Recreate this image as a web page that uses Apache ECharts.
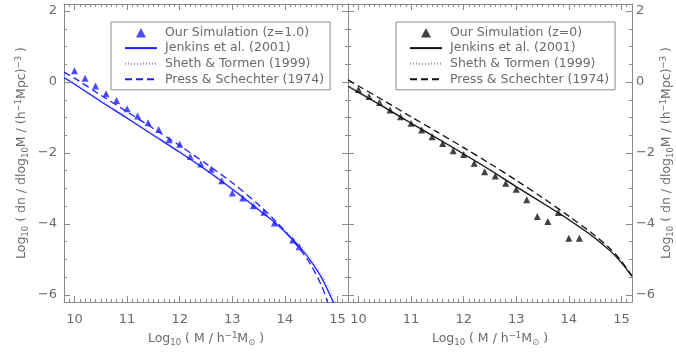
<!DOCTYPE html>
<html>
<head>
<meta charset="utf-8">
<script src="https://cdn.jsdelivr.net/npm/echarts@6/dist/echarts.min.js"></script>
<style>
  html, body { margin: 0; padding: 0; background: #fff; }
  #massFunc { width: 676px; height: 354px; }
</style>
</head>
<body>
<div id="massFunc"></div>
<script>
// tick labels
const xMajor = [10, 11, 12, 13, 14, 15];
const yMajor = [-6, -4, -2, 0, 2];

// z = 1.0 panel
const simZ1X = [10.0, 10.2, 10.4, 10.6, 10.8, 11.0, 11.2, 11.4, 11.6, 11.8, 12.0, 12.2, 12.4, 12.6, 12.8, 13.0, 13.2, 13.4, 13.6, 13.8, 14.15, 14.27];
const simZ1Y = [0.32, 0.11, -0.11, -0.33, -0.52, -0.75, -0.96, -1.15, -1.34, -1.63, -1.75, -2.10, -2.31, -2.46, -2.78, -3.13, -3.27, -3.49, -3.67, -3.97, -4.45, -4.64];

const curveZ1X = [9.8, 10.0, 10.5, 11.0, 11.5, 12.0, 12.5, 13.0, 13.5, 13.8, 14.0, 14.3, 14.5, 14.7, 14.9, 15.0];
const jenkinsZ1 = [0.12, -0.06, -0.55, -1.02, -1.50, -1.98, -2.48, -3.02, -3.60, -3.95, -4.22, -4.68, -5.06, -5.52, -6.14, -6.5];
const shethZ1 = [0.16, -0.02, -0.51, -0.98, -1.46, -1.94, -2.44, -2.98, -3.56, -3.91, -4.17, -4.60, -4.98, -5.42, -6.0, -6.35];
const psZ1X = [9.8, 10.0, 10.5, 11.0, 11.5, 12.0, 12.5, 13.0, 13.5, 13.8, 14.0, 14.3, 14.5, 14.7, 14.8, 14.9];
const psZ1 = [0.28, 0.11, -0.37, -0.84, -1.31, -1.79, -2.30, -2.84, -3.46, -3.88, -4.20, -4.74, -5.17, -5.75, -6.15, -6.6];

// z = 0 panel
const simZ0X = [10.0, 10.2, 10.4, 10.6, 10.8, 11.0, 11.2, 11.4, 11.6, 11.8, 12.0, 12.2, 12.4, 12.6, 12.8, 13.0, 13.2, 13.4, 13.6, 13.8, 14.0, 14.2];
const simZ0Y = [-0.21, -0.41, -0.58, -0.79, -0.98, -1.16, -1.35, -1.54, -1.73, -1.94, -2.04, -2.29, -2.53, -2.65, -2.85, -3.02, -3.32, -3.79, -3.93, -3.68, -4.40, -4.40];

const curveZ0X = [9.8, 10.0, 10.5, 11.0, 11.5, 12.0, 12.5, 13.0, 13.5, 14.0, 14.5, 14.8, 15.0, 15.2];
const jenkinsZ0 = [-0.12, -0.29, -0.72, -1.16, -1.59, -2.03, -2.48, -2.95, -3.41, -3.88, -4.40, -4.78, -5.09, -5.48];
const shethZ0 = [-0.08, -0.25, -0.69, -1.13, -1.56, -2.00, -2.45, -2.92, -3.39, -3.86, -4.38, -4.77, -5.08, -5.47];
const psZ0 = [0.06, -0.11, -0.54, -0.98, -1.41, -1.85, -2.30, -2.77, -3.26, -3.78, -4.33, -4.72, -5.05, -5.46];

const FONT = "DejaVu Sans";
const TXT = "#6a6a6a";
const AXIS = "#8a8a8a";
// triangle centred in a 32x10 legend slot
const LEGEND_TRI = "path://M0,0M32,10M11,10L16,0.5L21,10Z";

function pairs(xs, ys) {
  return xs.map((x, i) => [x, ys[i]]);
}

// minor tick positions
const xMinor = [];
for (let i = 98; i <= 152; i++) xMinor.push(+(i / 10).toFixed(1));
const yMinor = [];
for (let i = -12; i <= 4; i++) yMinor.push(i / 2);

const rich = {
  n: { fontSize: 12.5, lineHeight: 16, color: TXT, fontFamily: FONT },
  sub: { fontSize: 8.5, lineHeight: 9, padding: [7, 0, 0, 0], color: TXT, fontFamily: FONT },
  sup: { fontSize: 8.5, lineHeight: 9, padding: [0, 0, 7, 0], color: TXT, fontFamily: FONT },
};
const xName = "{n|Log}{sub|10}{n| ( M / h}{sup|−1}{n|M}{sub|⊙}{n| )}";
const yName = "{n|Log}{sub|10}{n| ( dn / dlog}{sub|10}{n|M / (h}{sup|−1}{n|Mpc)}{sup|−3}{n| )}";

function minus(v) {
  return v < 0 ? "−" + Math.abs(v) : String(v);
}

function xAxes(grid, pos, withLabel) {
  const base = {
    gridIndex: grid,
    type: "value",
    position: pos,
    min: 9.8,
    max: 15.2,
    splitLine: { show: false },
  };
  return [
    Object.assign({}, base, {
      axisLine: { show: true, onZero: false, lineStyle: { color: AXIS, width: 1 } },
      axisTick: { show: true, inside: true, length: 6, customValues: xMajor, lineStyle: { color: AXIS } },
      axisLabel: withLabel
        ? { show: true, customValues: xMajor, margin: 11, fontSize: 13, color: TXT, fontFamily: FONT }
        : { show: false },
      name: withLabel ? xName : "",
      nameLocation: "middle",
      nameGap: 28,
      nameTextStyle: { rich: rich },
    }),
    Object.assign({}, base, {
      axisLine: { show: false, onZero: false },
      axisTick: { show: true, inside: true, length: 3, customValues: xMinor, lineStyle: { color: AXIS } },
      axisLabel: { show: false },
    }),
  ];
}

function yAxes(grid, pos, withLabel) {
  const base = {
    gridIndex: grid,
    type: "value",
    position: pos,
    min: -6.2,
    max: 2.2,
    splitLine: { show: false },
  };
  return [
    Object.assign({}, base, {
      axisLine: { show: true, onZero: false, lineStyle: { color: AXIS, width: 1 } },
      axisTick: { show: true, inside: true, length: 6, customValues: yMajor, lineStyle: { color: AXIS } },
      axisLabel: withLabel
        ? { show: true, customValues: yMajor, margin: pos === "left" ? 7 : 4, fontSize: 13, color: TXT, fontFamily: FONT, formatter: minus }
        : { show: false },
      name: withLabel ? yName : "",
      nameLocation: "middle",
      nameRotate: 90,
      nameGap: pos === "left" ? 34 : 27,
      nameTextStyle: { rich: rich },
    }),
    Object.assign({}, base, {
      axisLine: { show: false, onZero: false },
      axisTick: { show: true, inside: true, length: 3, customValues: yMinor, lineStyle: { color: AXIS } },
      axisLabel: { show: false },
    }),
  ];
}

function legendBox(left, names) {
  return {
    orient: "vertical",
    left: left,
    top: 22,
    padding: [4, 6, 4, 13],
    borderColor: "#8a8a8a",
    borderWidth: 1,
    itemWidth: 32,
    itemHeight: 10,
    itemGap: 2.6,
    selectedMode: false,
    // line entries: hide the marker, keep the line
    data: names.map((n, i) => (i === 0 ? { name: n, icon: LEGEND_TRI } : { name: n, itemStyle: { opacity: 0 } })),
    formatter: (n) => n.trim(),
    textStyle: { fontSize: 12.5, lineHeight: 12, color: TXT, fontFamily: FONT, padding: [0, 0, 0, 3] },
  };
}

function panelSeries(xIdx, yIdx, color, dotColor, names, sim, jenkins, sheth, ps) {
  return [
    {
      name: names[2],
      type: "line",
      xAxisIndex: xIdx,
      yAxisIndex: yIdx,
      data: sheth,
      smooth: 0.3,
      symbol: "none",
      lineStyle: { color: dotColor, width: 1, type: [1, 2] },
      itemStyle: { color: dotColor },
    },
    {
      name: names[3],
      type: "line",
      xAxisIndex: xIdx,
      yAxisIndex: yIdx,
      data: ps,
      smooth: 0.3,
      symbol: "none",
      lineStyle: { color: color, width: 1.3, type: [7, 4] },
      itemStyle: { color: color },
    },
    {
      name: names[1],
      type: "line",
      xAxisIndex: xIdx,
      yAxisIndex: yIdx,
      data: jenkins,
      smooth: 0.3,
      symbol: "none",
      lineStyle: { color: color, width: 1.3 },
      itemStyle: { color: color },
    },
    {
      name: names[0],
      type: "scatter",
      xAxisIndex: xIdx,
      yAxisIndex: yIdx,
      data: sim,
      symbol: "triangle",
      symbolSize: 7,
      itemStyle: { color: color },
    },
  ];
}

const namesZ1 = ["Our Simulation (z=1.0)", "Jenkins et al. (2001)", "Sheth & Tormen (1999)", "Press & Schechter (1974)"];
const namesZ0 = ["Our Simulation (z=0)", "Jenkins et al. (2001) ", "Sheth & Tormen (1999) ", "Press & Schechter (1974) "];

let myChart = echarts.init(document.getElementById("massFunc"), null, { renderer: "canvas" });

let option = {
  backgroundColor: "#fff",
  animation: false,
  grid: [
    { left: 64, top: 4, width: 284, height: 298 },
    { left: 348, top: 4, width: 284, height: 298 },
  ],
  // per grid: bottom major, bottom minor, top major, top minor
  xAxis: [].concat(
    xAxes(0, "bottom", true), xAxes(0, "top", false),
    xAxes(1, "bottom", true), xAxes(1, "top", false)
  ),
  // per grid: left major, left minor, right major, right minor
  yAxis: [].concat(
    yAxes(0, "left", true), yAxes(0, "right", false),
    yAxes(1, "left", false), yAxes(1, "right", true)
  ),
  legend: [legendBox(111, namesZ1), legendBox(396, namesZ0)],
  series: [].concat(
    panelSeries(0, 0, "#1f1fff", "#8c8cff", namesZ1,
      pairs(simZ1X, simZ1Y), pairs(curveZ1X, jenkinsZ1), pairs(curveZ1X, shethZ1), pairs(psZ1X, psZ1)),
    panelSeries(4, 4, "#111111", "#9a9a9a", namesZ0,
      pairs(simZ0X, simZ0Y), pairs(curveZ0X, jenkinsZ0), pairs(curveZ0X, shethZ0), pairs(curveZ0X, psZ0))
  ),
};

myChart.setOption(option);
</script>
</body>
</html>
